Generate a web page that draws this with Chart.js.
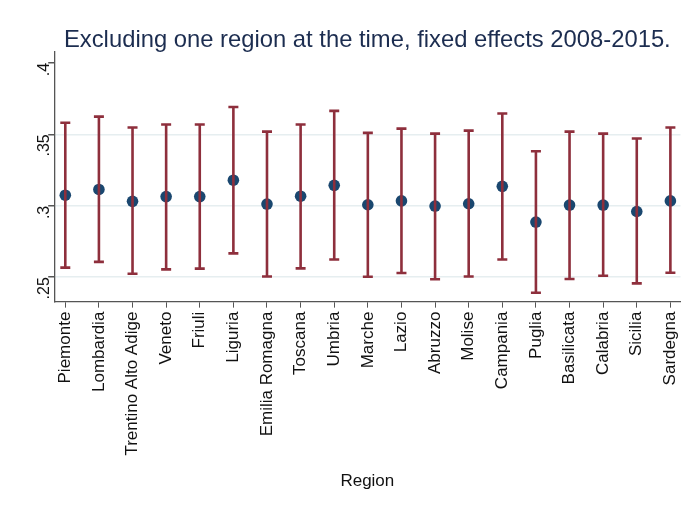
<!DOCTYPE html>
<html>
<head>
<meta charset="utf-8">
<script src="https://cdn.jsdelivr.net/npm/chart.js@4"></script>
<style>
html,body{margin:0;padding:0;background:#fff;}
#wrap{width:695px;height:508px;position:relative;}
</style>
</head>
<body>
<div id="wrap"><canvas id="c" width="695" height="508"></canvas></div>
<script>
const regions = ["Piemonte","Lombardia","Trentino Alto Adige","Veneto","Friuli","Liguria","Emilia Romagna","Toscana","Umbria","Marche","Lazio","Abruzzo","Molise","Campania","Puglia","Basilicata","Calabria","Sicilia","Sardegna"];
const estimates = [0.3074,0.3114,0.3031,0.3064,0.3064,0.3179,0.3012,0.3067,0.3143,0.3007,0.3034,0.2998,0.3014,0.3136,0.2886,0.3005,0.3005,0.2960,0.3034];
const upperCI = [0.3581,0.3624,0.3548,0.3569,0.3569,0.3691,0.3519,0.3569,0.3664,0.3510,0.3540,0.3505,0.3526,0.3646,0.3381,0.3519,0.3505,0.3471,0.3548];
const lowerCI = [0.2567,0.2607,0.2524,0.2555,0.2560,0.2667,0.2505,0.2562,0.2624,0.2503,0.2529,0.2486,0.2505,0.2624,0.2391,0.2488,0.2510,0.2457,0.2531];
const yTicks = [0.25,0.30,0.35,0.40];
const titleText = "Excluding one region at the time, fixed effects 2008-2015.";
const xTitle = "Region";

const FONT = "'Liberation Sans', Arial, sans-serif";

const errorBars = {
  id: 'errorBars',
  afterDatasetsDraw(chart) {
    const ctx = chart.ctx, xs = chart.scales.x, ys = chart.scales.y;
    ctx.save();
    ctx.strokeStyle = '#8e2f3c';
    ctx.lineWidth = 2.6;
    ctx.lineCap = 'butt';
    regions.forEach((r, i) => {
      const x = xs.getPixelForValue(i);
      const yh = ys.getPixelForValue(upperCI[i]);
      const yl = ys.getPixelForValue(lowerCI[i]);
      ctx.beginPath();
      ctx.moveTo(x, yh); ctx.lineTo(x, yl);
      ctx.moveTo(x - 5, yh); ctx.lineTo(x + 5, yh);
      ctx.moveTo(x - 5, yl); ctx.lineTo(x + 5, yl);
      ctx.stroke();
    });
    ctx.restore();
  }
};

const centeredTitle = {
  id: 'centeredTitle',
  afterDraw(chart) {
    const ctx = chart.ctx, a = chart.chartArea;
    ctx.save();
    ctx.fillStyle = '#1c2d50';
    ctx.font = "23.8px " + FONT;
    ctx.textAlign = 'center';
    ctx.textBaseline = 'alphabetic';
    ctx.fillText(titleText, (a.left + a.right) / 2, 47);
    ctx.restore();
  }
};

new Chart(document.getElementById('c'), {
  type: 'scatter',
  data: {
    datasets: [{
      data: estimates.map((v, i) => ({x: i, y: v})),
      backgroundColor: '#1a476f',
      borderColor: '#1a476f',
      pointRadius: 5.8,
      pointHoverRadius: 5.8,
      borderWidth: 0
    }]
  },
  options: {
    responsive: false,
    animation: false,
    layout: {padding: {top: 52, right: 13, left: 21, bottom: 9}},
    plugins: {legend: {display: false}, tooltip: {enabled: false}, title: {display: false}},
    scales: {
      x: {
        type: 'linear',
        min: -0.33,
        max: 18.3,
        afterBuildTicks(s) { s.ticks = regions.map((r, i) => ({value: i})); },
        ticks: {
          autoSkip: false,
          minRotation: 90, maxRotation: 90,
          padding: 4,
          color: '#111',
          font: {family: FONT, size: 17},
          callback: (v) => regions[v]
        },
        grid: {display: true, drawOnChartArea: false, drawTicks: true, tickLength: 6, color: '#555', tickWidth: 1},
        border: {display: true, color: '#555', width: 1.3},
        title: {display: true, text: xTitle, color: '#111', font: {family: FONT, size: 17}, padding: {top: 12, bottom: 7}}
      },
      y: {
        min: 0.2329,
        max: 0.4076,
        afterBuildTicks(s) { s.ticks = yTicks.map(v => ({value: v})); },
        ticks: {
          minRotation: 90, maxRotation: 90,
          padding: 4,
          color: '#111',
          font: {family: FONT, size: 16},
          callback: (v) => String(Number(v.toFixed(2))).replace(/^0/, '')
        },
        grid: {
          drawTicks: true, tickLength: 6,
          color: (c) => (c.tick && c.tick.value > 0.39) ? 'rgba(0,0,0,0)' : '#e6eef0',
          tickColor: '#555',
          lineWidth: 1.5
        },
        border: {display: true, color: '#555', width: 1.3}
      }
    }
  },
  plugins: [errorBars, centeredTitle]
});
</script>
</body>
</html>
